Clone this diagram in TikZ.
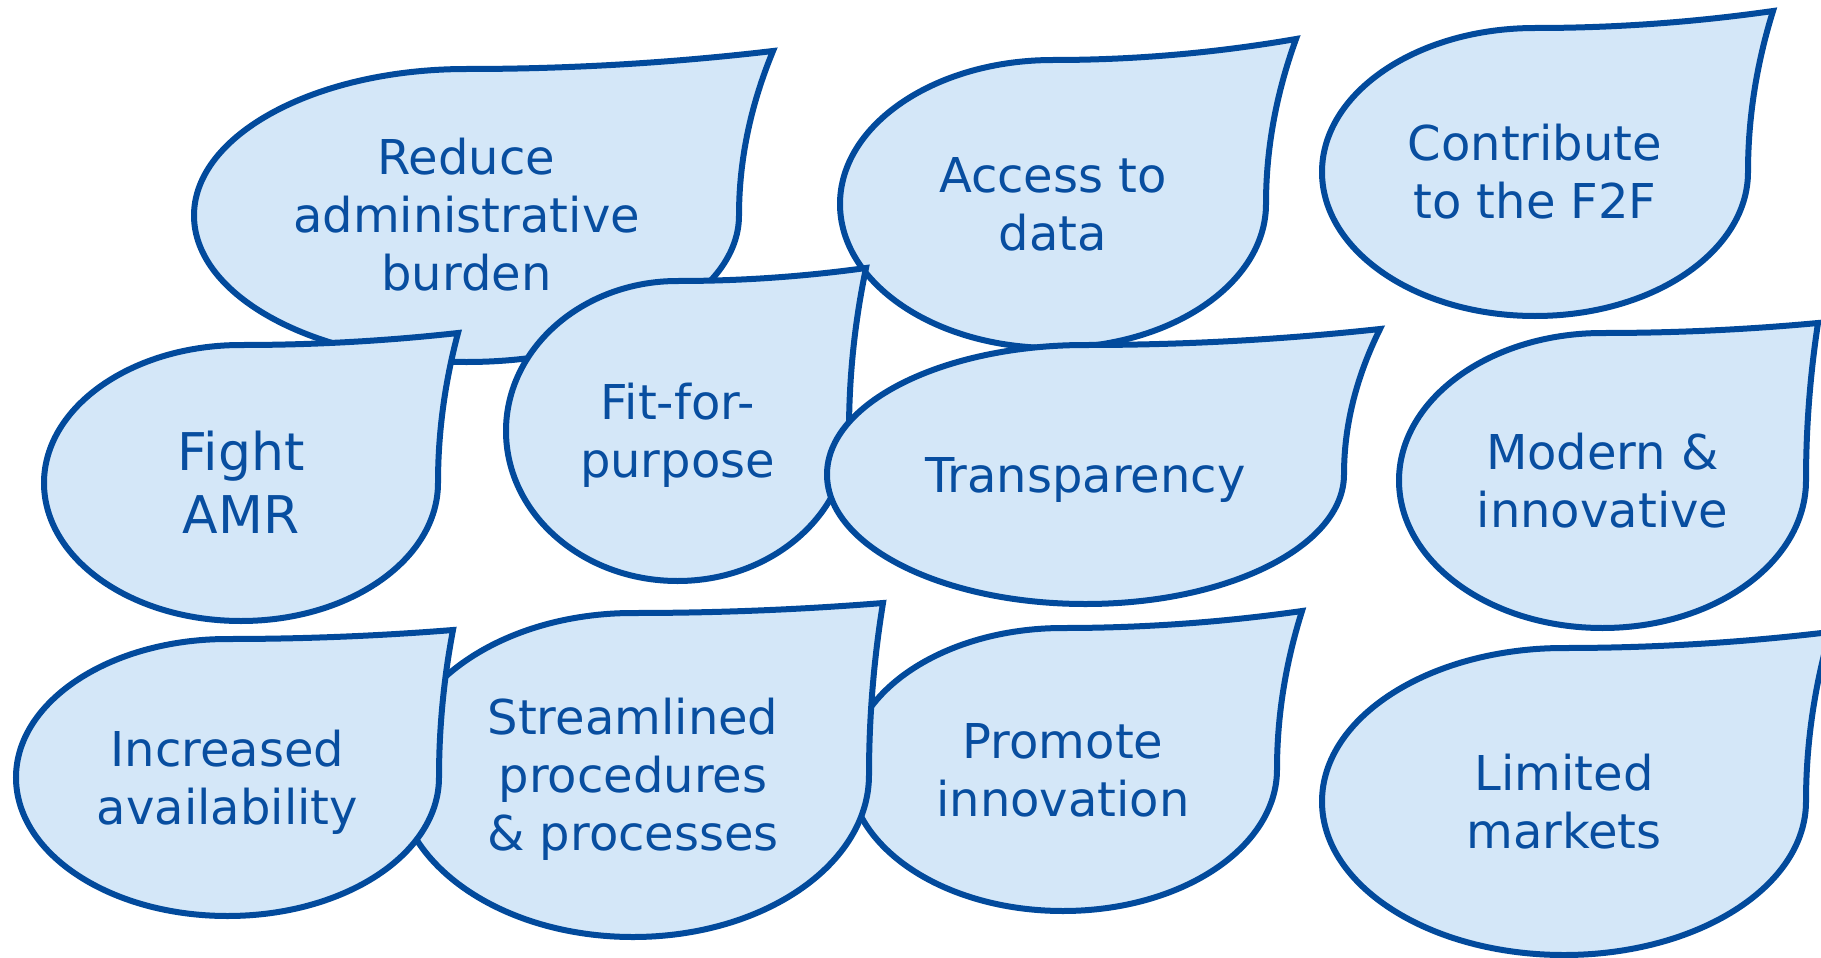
\documentclass[tikz,border=0pt]{standalone}
\usepackage{fontspec}
\setmainfont{DejaVu Sans}
\definecolor{dropline}{RGB}{2,74,156}
\definecolor{dropfill}{RGB}{212,231,248}
\definecolor{droptxt}{RGB}{8,78,160}
\newcommand{\fsup}{\rule{0pt}{1em}}
\newcommand{\fsdn}{\rule[-0.271em]{0pt}{0.271em}}
\tikzset{
  dropshape/.style={draw=dropline, fill=dropfill, line width=6pt, miter limit=20},
  droptext/.style={text=droptxt, align=center, inner sep=0pt, font=\fontsize{48}{58}\selectfont},
  dropbig/.style={font=\fontsize{52}{63}\selectfont}
}
% #1 name, #2 hc, #3 vc, #4 rx, #5 ry, #6 tip x, #7 tip y, #8 extra style, #9 text
\newcommand{\tdrop}[9]{%
  \path[dropshape] ({#2-#4},#3) arc[start angle=180, end angle=270, x radius=#4, y radius=#5]
    .. controls ({#2+(#6-#2)/3},{#3-#5}) and ({#6-(#6-#2)/3},{#7+2*(#3-#5-#7)/3}) .. (#6,#7)
    .. controls ({#6+2*(#2+#4-#6)/3},{#7+(#3-#7)/3}) and ({#2+#4},{#3-(#3-#7)/3}) .. ({#2+#4},#3)
    arc[start angle=0, end angle=180, x radius=#4, y radius=#5] -- cycle;
  \node[droptext,#8] (#1) at (#2,#3) {#9};
}
\begin{document}
\begin{tikzpicture}[x=1pt,y=-1pt]
\path[use as bounding box] (0,0) rectangle (1821,958);
\fill[white] (0,0) rectangle (1821,958);
\clip (0,0) rectangle (1821,958);
\tdrop{reduce}{466.5}{215.5}{272.5}{146.5}{773}{51}{}{\fsup Reduce\\administrative\\burden\fsdn}
\tdrop{access}{1053}{204}{213}{144}{1296}{39}{}{\fsup Access to\\data\fsdn}
\tdrop{contribute}{1535}{172}{213}{144}{1773}{11}{}{\fsup Contribute\\to the F2F\fsdn}
\tdrop{fight}{241}{483}{197}{138}{458}{333}{dropbig}{\fsup Fight\\AMR\fsdn}
\tdrop{fit}{677.5}{431}{171.5}{150}{866}{268}{}{\fsup Fit-for-\\purpose\fsdn}
\tdrop{transparency}{1085.5}{474.5}{258.5}{129.5}{1380}{329}{}{\fsup Transparency\fsdn}
\tdrop{modern}{1602.5}{480.5}{203.5}{147.5}{1818}{323}{}{\fsup Modern \&\\innovative\fsdn}
\tdrop{promote}{1063}{769.5}{214}{141.5}{1302}{611}{}{\fsup Promote\\innovation\fsdn}
\tdrop{streamlined}{633}{775}{236}{162}{883}{603}{}{\fsup Streamlined\\procedures\\\& processes\fsdn}
\tdrop{increased}{227.5}{777.5}{211.5}{138.5}{453}{630}{}{\fsup Increased\\availability\fsdn}
\tdrop{limited}{1564}{801.5}{242}{153.5}{1830}{632}{}{\fsup Limited\\markets\fsdn}
\end{tikzpicture}
\end{document}
